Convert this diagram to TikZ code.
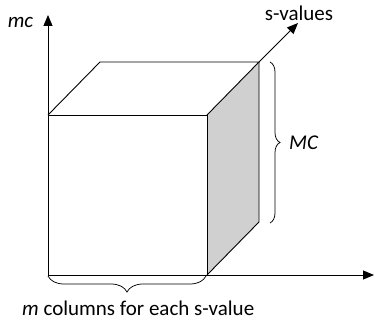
\documentclass[tikz,border=0pt]{standalone}
\usepackage{fontspec}
\setmainfont{Carlito}
\usetikzlibrary{arrows.meta,decorations.pathreplacing}
\begin{document}
\begin{tikzpicture}[x=1pt,y=-1pt,
  edge/.style={line width=0.9pt,line join=miter},
  axis/.style={line width=0.9pt,-{Triangle[length=11pt,width=9pt]}},
  lbl/.style={font=\fontsize{21}{24}\selectfont,inner sep=0pt},
  bracestyle/.style={line width=0.75pt,decorate}]
\useasboundingbox (0,0) rectangle (375,326);
% cube corners
\coordinate (O) at (48,275);
\coordinate (FTL) at (48,115);
\coordinate (FTR) at (207,115);
\coordinate (FBR) at (207,275);
\coordinate (BTL) at (100,62);
\coordinate (BTR) at (259,62);
\coordinate (BBR) at (259,222);
\coordinate (Ytip) at (48,15);
\coordinate (Xtip) at (374,275);
\coordinate (Stip) at (298,23);
% grey side face
\fill[fill={rgb,255:red,208;green,208;blue,208}] (FTR) -- (BTR) -- (BBR) -- (FBR) -- cycle;
% edges
\draw[edge] (FTL) -- (FTR) -- (FBR);
\draw[edge] (FTL) -- (BTL) -- (BTR) -- (FTR);
\draw[edge] (BTR) -- (BBR) -- (FBR);
% axes
\draw[axis] (O) -- (Ytip);
\draw[axis] (O) -- (Xtip);
\draw[axis] (BTR) -- (Stip);
% braces
\coordinate (RB1) at (270,62);
\coordinate (RB2) at (270,223);
\draw[bracestyle,decoration={brace,amplitude=10pt}] (RB1) -- (RB2);
\coordinate (BB1) at (48,276);
\coordinate (BB2) at (206,276);
\draw[bracestyle,decoration={brace,amplitude=16pt}] (BB2) -- (BB1);
% labels
\node[lbl,anchor=base] (mc) at (20.5,28) {\itshape mc};
\node[lbl,anchor=base] (sv) at (299,21) {s-values};
\node[lbl,anchor=base west] (MC) at (289,150) {\itshape MC};
\node[lbl,anchor=base west] (cols) at (22,315) {\itshape m\upshape\ columns for each s-value};
\end{tikzpicture}
\end{document}
